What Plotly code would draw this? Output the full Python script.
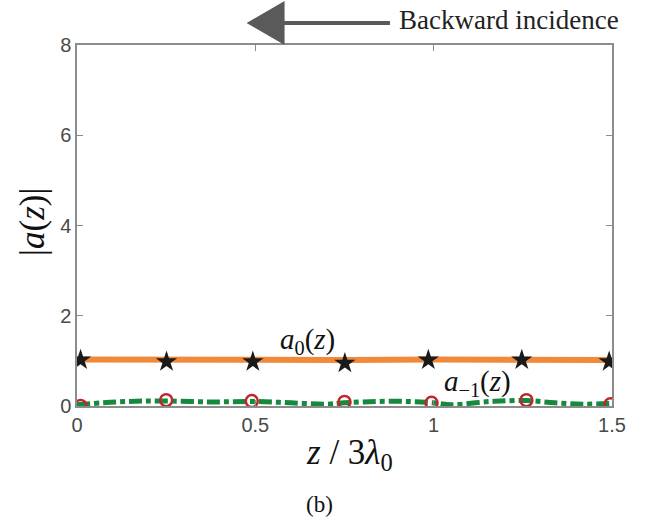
import plotly.graph_objects as go

# Sample positions (z / 3*lambda0) and field amplitudes |a(z)|
star_z = [0.01, 0.251, 0.493, 0.751, 0.985, 1.247, 1.492]
star_a = [1.02, 0.98, 0.98, 0.95, 1.02, 1.02, 0.98]

circ_z = [0.01, 0.25, 0.49, 0.75, 0.994, 1.26, 1.496]
circ_a = [0.0, 0.13, 0.11, 0.09, 0.07, 0.13, 0.04]

a0_z = [0.0, 0.25, 0.5, 0.75, 1.0, 1.25, 1.5]
a0_val = [1.03, 1.02, 1.02, 1.02, 1.03, 1.03, 1.02]

am1_z = [0.0, 0.14, 0.25, 0.38, 0.5, 0.6, 0.7, 0.75, 0.84, 0.93, 1.0, 1.05,
         1.16, 1.26, 1.34, 1.42, 1.5]
am1_val = [0.03, 0.10, 0.11, 0.09, 0.10, 0.07, 0.04, 0.07, 0.10, 0.10, 0.07,
           0.03, 0.10, 0.12, 0.07, 0.04, 0.06]

x_ticks = [0, 0.5, 1, 1.5]
x_tick_text = ["0", "0.5", "1", "1.5"]
y_ticks = [0, 2, 4, 6, 8]

SERIF = "Liberation Serif"
SANS = "Liberation Sans"

fig = go.Figure()

fig.add_trace(go.Scatter(
    x=a0_z, y=a0_val, mode="lines",
    line=dict(color="#f2883a", width=6), showlegend=False))
fig.add_trace(go.Scatter(
    x=am1_z, y=am1_val, mode="lines", line_shape="spline",
    line=dict(color="#17893f", width=5, dash="13px,4px,5px,4px"),
    showlegend=False))
fig.add_trace(go.Scatter(
    x=star_z, y=star_a, mode="markers",
    marker=dict(symbol="star", size=16, color="#1a1a1a",
                line=dict(width=0)), showlegend=False))
fig.add_trace(go.Scatter(
    x=circ_z, y=circ_a, mode="markers",
    marker=dict(symbol="circle-open", size=12, color="#c0272d",
                line=dict(width=2.5, color="#c0272d")), showlegend=False))

axis_common = dict(
    showline=True, linecolor="#8c8c8c", linewidth=1.5, mirror="ticks",
    ticks="inside", ticklen=6, tickcolor="#8c8c8c", tickwidth=1,
    showgrid=False, zeroline=False,
    tickfont=dict(family=SANS, size=20, color="#4a4a4a"),
)

fig.update_xaxes(range=[0, 1.5], tickvals=x_ticks, ticktext=x_tick_text,
                 **axis_common)
fig.update_yaxes(range=[0, 8], tickvals=y_ticks, **axis_common)


def label(text, x, y, size, xref="paper", yref="paper", **kw):
    return dict(x=x, y=y, xref=xref, yref=yref, text=text, showarrow=False,
                xanchor=kw.pop("xanchor", "center"), yanchor="middle",
                font=dict(family=SERIF, size=size,
                          color=kw.pop("color", "#111")), **kw)


annotations = [
    label("<i>a</i><sub>0</sub>(<i>z</i>)", 0.647, 1.44, 29,
          xref="x", yref="y"),
    label("<i>a</i><sub>\u22121</sub>(<i>z</i>)", 1.122, 0.5, 29,
          xref="x", yref="y"),
    label("<i>z</i> / 3<i>\u03bb</i><sub>0</sub>", 0.509, -0.135, 35),
    label("(b)", 0.454, -0.272, 23),
    label("|<i>a</i>(<i>z</i>)|", -0.082, 0.51, 35, textangle=-90),
    label("Backward incidence", 0.598, 1.069, 27, xanchor="left",
          color="#222"),
]

# Direction-of-incidence arrow above the axes
shapes = [
    dict(type="line", xref="paper", yref="paper",
         x0=0.38, x1=0.585, y0=1.061, y1=1.061,
         line=dict(color="#5a5a5a", width=4)),
    dict(type="path", xref="paper", yref="paper",
         path="M 0.317 1.061 L 0.388 1.122 L 0.388 1.0 Z",
         fillcolor="#5a5a5a", line=dict(color="#5a5a5a", width=0)),
]

fig.update_layout(
    width=658, height=520,
    margin=dict(l=77, r=46, t=45, b=114),
    plot_bgcolor="white", paper_bgcolor="white",
    annotations=annotations, shapes=shapes,
)

fig.write_html("out.html")
